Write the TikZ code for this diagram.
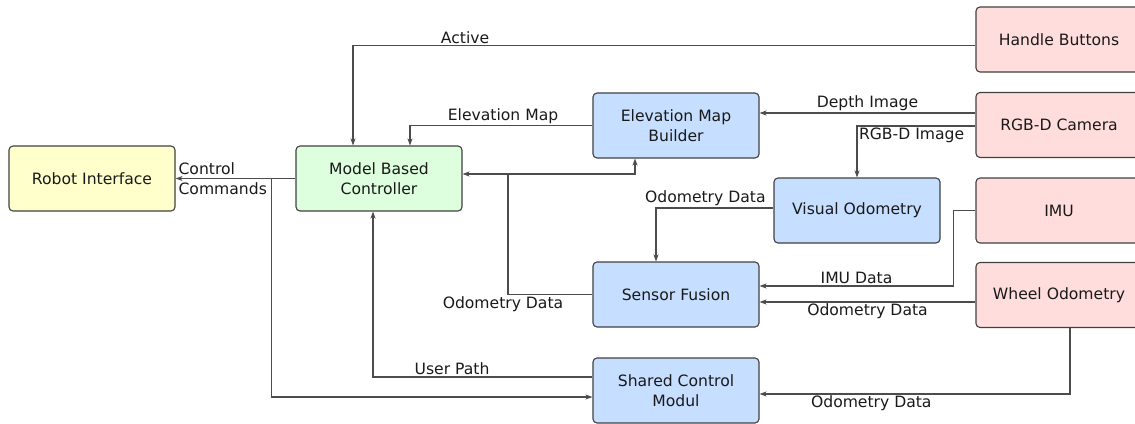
\documentclass[tikz,border=0pt]{standalone}
\usepackage{fontspec}
\setmainfont{DejaVu Sans}
\usetikzlibrary{arrows.meta}
\definecolor{ifcyellow}{HTML}{FFFFCC}
\definecolor{ctrlgreen}{HTML}{DDFFDD}
\definecolor{procblue}{HTML}{C6DEFF}
\definecolor{sensred}{HTML}{FFDDDD}
\tikzset{
  block/.style={draw=black!75, line width=1.1pt, rounded corners=4pt, minimum width=166pt,
    minimum height=65pt, inner sep=0pt, align=center, text=black!90},
  conn/.style={draw=black!70, line width=1.1pt, -{Stealth[length=7pt,width=5pt,inset=2pt]}},
  lbl/.style={inner sep=1.5pt, text=black!90},
}

\begin{document}
\begin{tikzpicture}[x=1pt, y=-1pt, font=\fontsize{15.6}{20}\selectfont]
    \useasboundingbox (0,0) rectangle (1135,423);
    \node[block, fill=ifcyellow] (ri) at (92,178.5) {Robot Interface};
    \node[block, fill=ctrlgreen] (mbc) at (379,178.5) {Model Based\\Controller};
    \node[block, fill=procblue] (emb) at (676,125.5) {Elevation Map\\Builder};
    \node[block, fill=procblue] (vo) at (857,210.5) {Visual Odometry};
    \node[block, fill=procblue] (sf) at (676,294.5) {Sensor Fusion};
    \node[block, fill=procblue] (scm) at (676,390.5) {Shared Control\\Modul};
    \node[block, fill=sensred] (hb) at (1059,39.5) {Handle Buttons};
    \node[block, fill=sensred] (cam) at (1059,125) {RGB-D Camera};
    \node[block, fill=sensred] (imu) at (1059,210.5) {IMU};
    \node[block, fill=sensred] (wo) at (1059,295) {Wheel Odometry};
    \coordinate (fb) at ([xshift=129pt, yshift=4.5pt]mbc.center);
    \coordinate (cc) at ([xshift=-24pt]mbc.west);

    \draw[conn] ([yshift=-6pt]hb.west) -| node[lbl, above, pos=0.41]{Active} ([xshift=-26pt]mbc.north);
    \draw[conn] (emb.west) -| node[lbl, above, pos=0.245]{Elevation Map} ([xshift=31pt]mbc.north);
    \draw[conn] (sf.west) -| node[lbl, below, pos=0.5, xshift=-5pt]{Odometry Data} (fb) -- (fb -| mbc.east);
    \draw[conn] (fb) -| ([xshift=-41pt]emb.south);
    \draw[conn] ([yshift=12pt]cam.west) -- node[lbl, above]{Depth Image} ([yshift=12pt]cam.west -| emb.east);
    \draw[conn] ([yshift=-1pt]cam.west) -| node[lbl, below right, pos=0.5]{RGB-D Image} (vo.north);
    \draw[conn] ([yshift=2.5pt]vo.west) -| node[lbl, above, pos=0.29]{Odometry Data} ([xshift=-20pt]sf.north);
    \draw[conn] (imu.west) -- ++(-22,0) |- node[lbl, above, pos=0.75]{IMU Data} ([yshift=8.5pt]sf.east);
    \draw[conn] ([yshift=-7pt]wo.west) -- node[lbl, below]{Odometry Data} ([yshift=-7pt]wo.west -| sf.east);
    \draw[conn] ([xshift=11pt]wo.south) |- node[lbl, below, pos=0.82]{Odometry Data} ([yshift=-3.5pt]scm.east);
    \draw[conn] (mbc.west) -- node[lbl, pos=1, anchor=west, align=left, xshift=1pt]{Control\\Commands} (ri.east);
    \draw[conn] (cc) |- ([yshift=-6.5pt]scm.west);
    \draw[conn] ([yshift=13.5pt]scm.west) -| node[lbl, above, pos=0.32]{User Path} ([xshift=-6pt]mbc.south);
\end{tikzpicture}
\end{document}
